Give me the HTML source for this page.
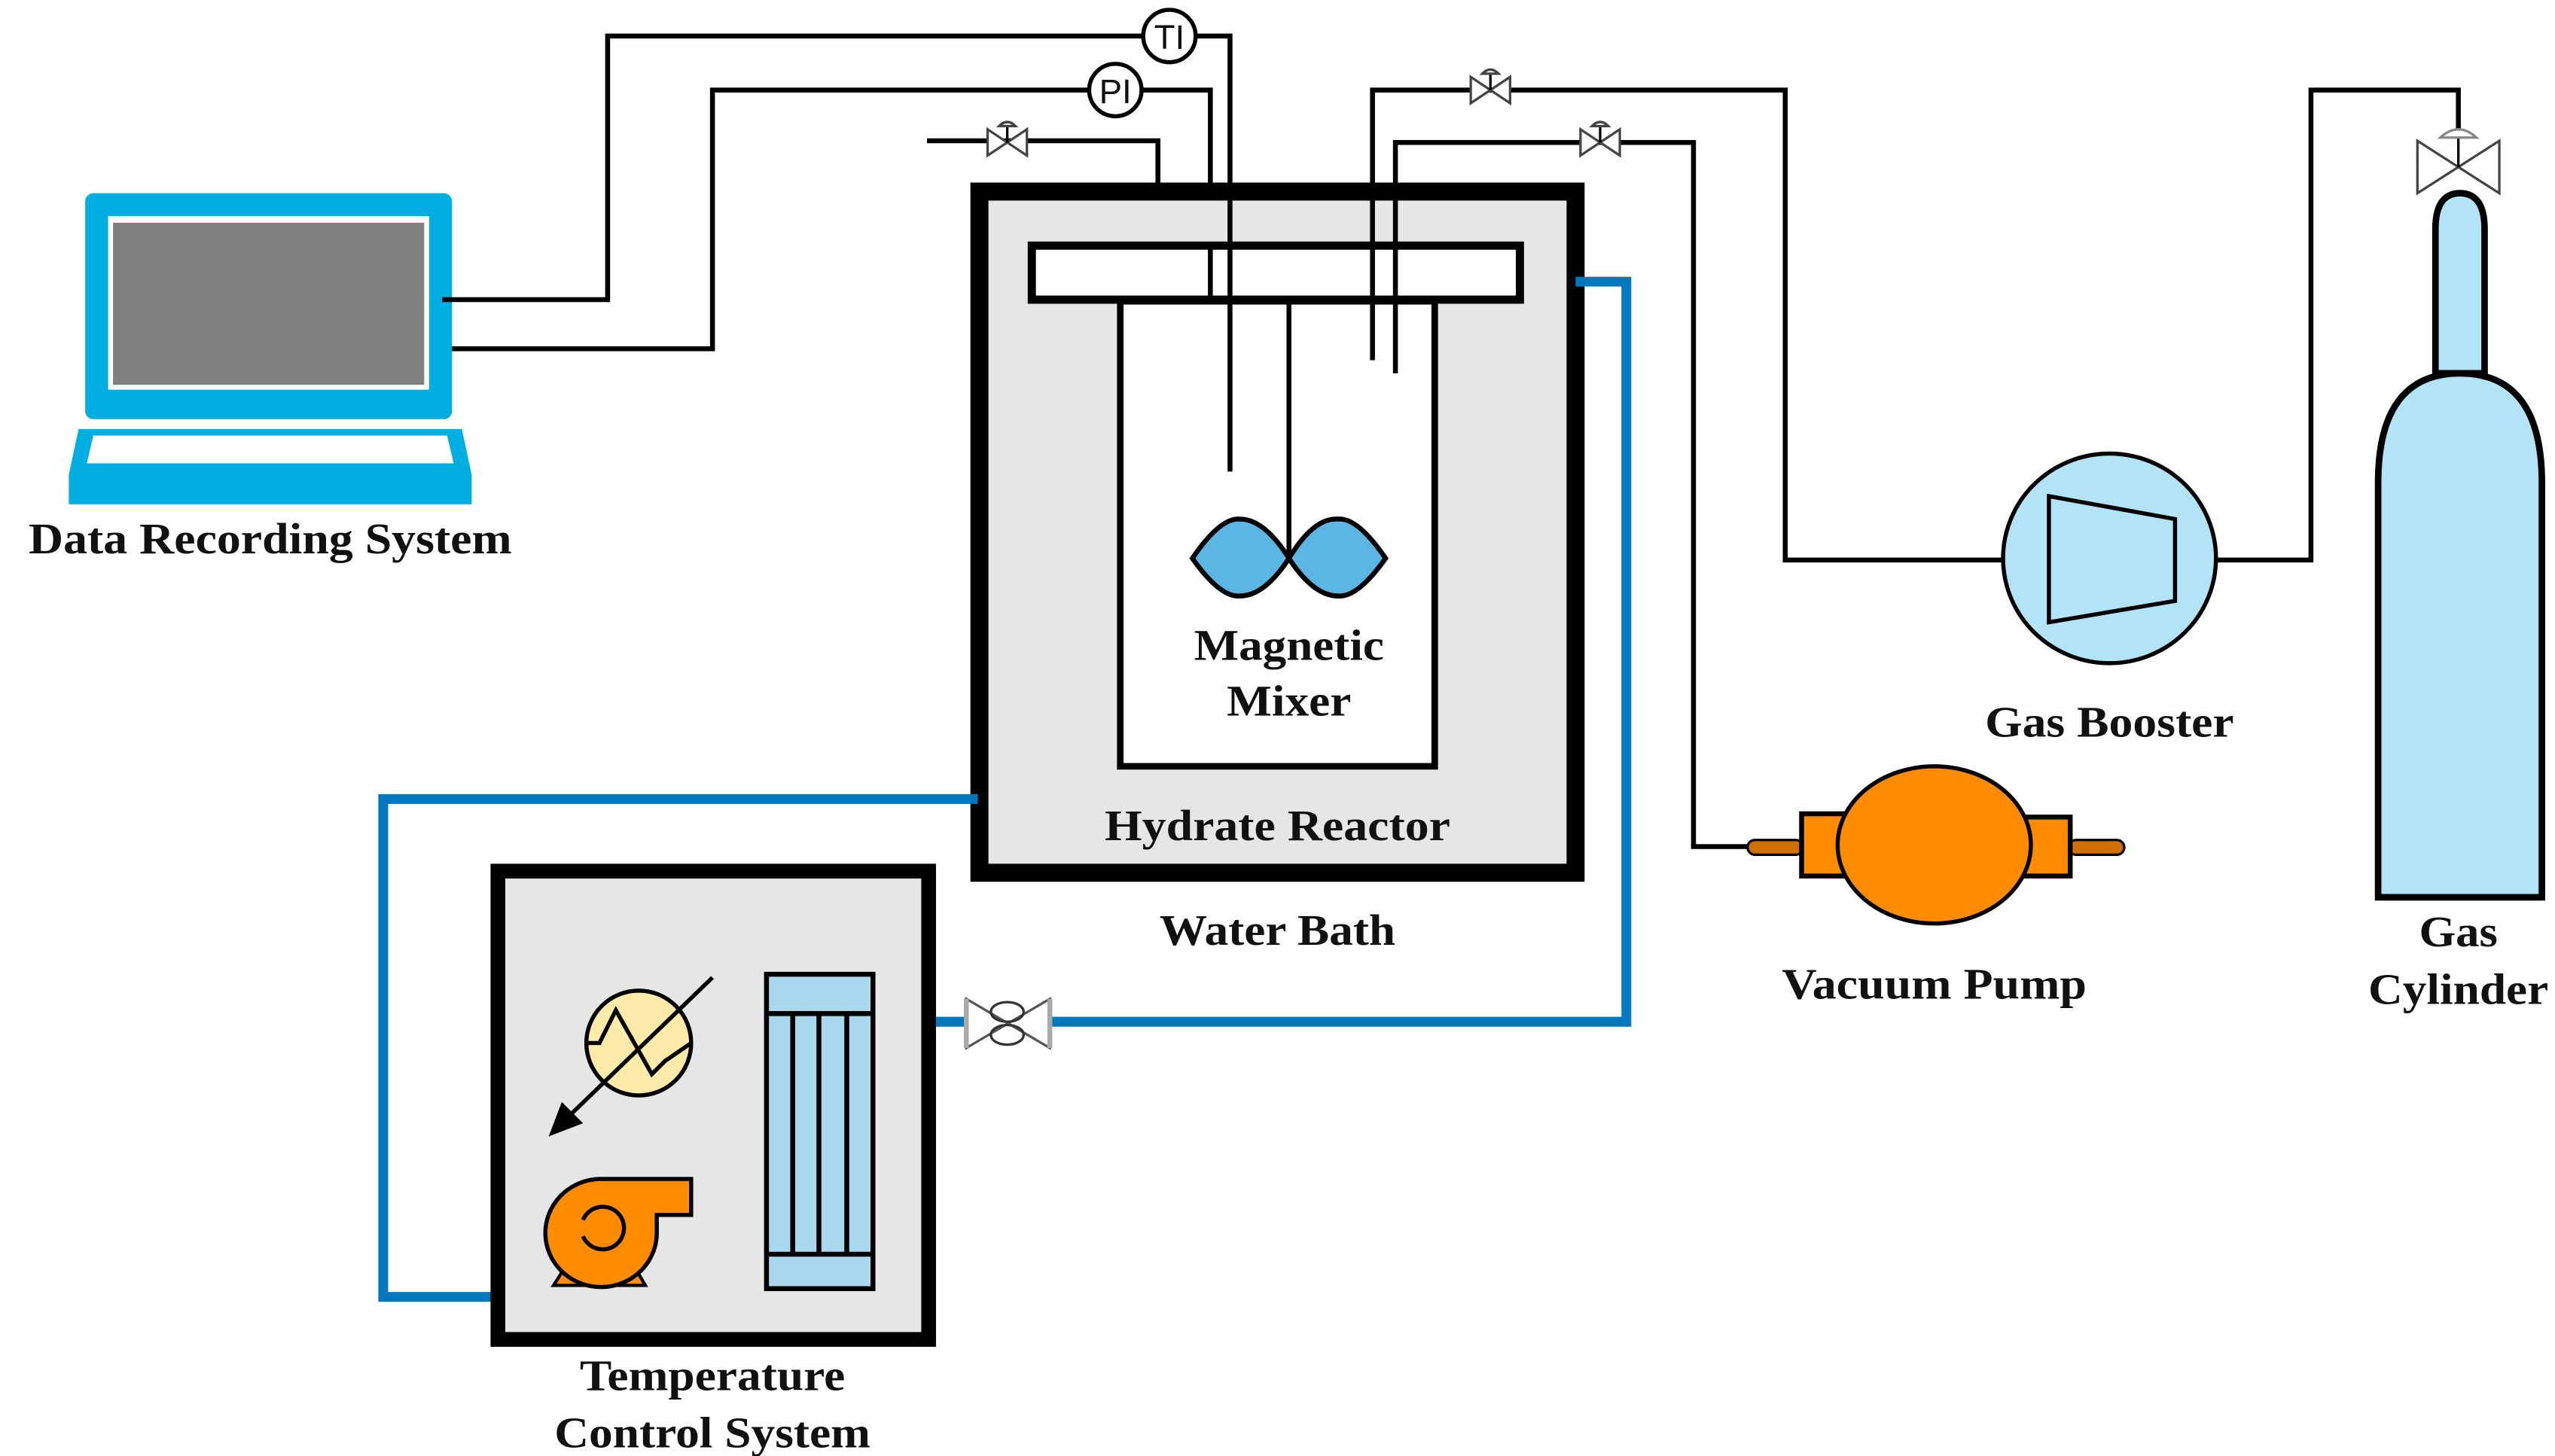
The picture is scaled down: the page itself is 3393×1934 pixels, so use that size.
<!DOCTYPE html>
<html><head><meta charset="utf-8"><style>
html,body{margin:0;padding:0;background:#fff;}
svg{display:block;}
text{font-family:"Liberation Serif",serif;font-weight:bold;fill:#111;text-anchor:middle;}
</style></head><body>
<svg width="3393" height="1934" viewBox="0 0 1560 889.2" preserveAspectRatio="none" xmlns="http://www.w3.org/2000/svg">
<defs>
<g id="sv">
 <path d="M-12,-8 L12,8 L12,-8 L-12,8 Z" fill="#fff" stroke="#444" stroke-width="1.5"/>
 <line x1="0" y1="0" x2="0" y2="-10" stroke="#000" stroke-width="1.5"/>
 <path d="M-5,-10 Q0,-15 5,-10 Z" fill="#fff" stroke="#444" stroke-width="1.5"/>
</g>
</defs>
<!-- Laptop -->
<rect x="52" y="118" width="224" height="138" rx="5" fill="#00aee2"/>
<rect x="66" y="132" width="196" height="106" fill="#fff"/>
<rect x="69" y="136" width="190" height="99" fill="#808080"/>
<path d="M48,262 L282,262 L288,290 L288,308 L42,308 L42,290 Z" fill="#00aee2"/>
<path d="M57,266 L273,266 L277,283 L53,283 Z" fill="#fff"/>
<text x="165" y="338" font-size="27" textLength="295" lengthAdjust="spacingAndGlyphs">Data Recording System</text>

<!-- black lines -->
<g fill="none" stroke="#000" stroke-width="3">
<polyline points="270,183 371,183 371,22 698,22"/>
<polyline points="730,22 751,22 751,288"/>
<polyline points="276,213 435,213 435,55 665,55"/>
<polyline points="697,55 739,55 739,150"/>
<polyline points="566,86 707,86 707,114"/>
<polyline points="838,220 838,55 1090,55 1090,342 1225,342"/>
<polyline points="852,228 852,87 1034,87 1034,517 1067,517"/>
<polyline points="1352,342 1411,342 1411,55 1501,55 1501,84"/>
</g>
<ellipse cx="714" cy="22" rx="16" ry="16" fill="#fff" stroke="#000" stroke-width="2.5"/>
<text x="714" y="30" font-size="21" style="font-family:'Liberation Sans',sans-serif;font-weight:normal">TI</text>
<ellipse cx="681" cy="55" rx="16" ry="16" fill="#fff" stroke="#000" stroke-width="2.5"/>
<text x="681" y="63" font-size="21" style="font-family:'Liberation Sans',sans-serif;font-weight:normal">PI</text>
<use href="#sv" x="615" y="87"/>
<use href="#sv" x="910" y="55"/>
<use href="#sv" x="977" y="87"/>

<!-- Water bath -->
<rect x="598" y="117" width="364" height="416" fill="#e6e6e6" stroke="#000" stroke-width="11"/>
<rect x="630" y="150" width="298" height="33" fill="#fff" stroke="#000" stroke-width="5"/>
<rect x="684" y="184" width="192" height="284" fill="#fff" stroke="#000" stroke-width="4"/>
<line x1="739" y1="150" x2="739" y2="184" stroke="#000" stroke-width="3"/>
<line x1="751" y1="117" x2="751" y2="288" stroke="#000" stroke-width="3"/>
<line x1="838" y1="117" x2="838" y2="220" stroke="#000" stroke-width="3"/>
<line x1="852" y1="117" x2="852" y2="228" stroke="#000" stroke-width="3"/>
<line x1="707" y1="112" x2="707" y2="122" stroke="#000" stroke-width="3"/>
<line x1="787" y1="184" x2="787" y2="340" stroke="#000" stroke-width="3"/>
<path d="M728,341 Q745,316 757,317 Q772,317 787,341 Q772,364 757,364 Q745,365 728,341 Z" fill="#5bb6e4" stroke="#000" stroke-width="3"/>
<path d="M787,341 Q802,316 817,317 Q829,316 846,341 Q829,365 817,364 Q802,364 787,341 Z" fill="#5bb6e4" stroke="#000" stroke-width="3"/>
<text x="787" y="403" font-size="27" textLength="116" lengthAdjust="spacingAndGlyphs">Magnetic</text>
<text x="787" y="437" font-size="27" textLength="76" lengthAdjust="spacingAndGlyphs">Mixer</text>
<text x="780" y="513" font-size="27" textLength="211" lengthAdjust="spacingAndGlyphs">Hydrate Reactor</text>
<text x="780" y="577" font-size="27" textLength="144" lengthAdjust="spacingAndGlyphs">Water Bath</text>

<!-- Blue lines -->
<g fill="none" stroke="#0079bf" stroke-width="6">
<polyline points="962,172 993,172 993,624 641,624"/>
<polyline points="589,624 567,624"/>
<polyline points="597,488 234,488 234,792 304,792"/>
</g>
<path d="M590,610 L641,640 L641,610 L590,640 Z" fill="#fff" stroke="#555" stroke-width="1.5"/>
<line x1="590" y1="610" x2="590" y2="640" stroke="#aaa" stroke-width="3"/>
<line x1="641" y1="610" x2="641" y2="640" stroke="#aaa" stroke-width="3"/>
<ellipse cx="615" cy="618" rx="10" ry="6" fill="none" stroke="#333" stroke-width="1.5"/>
<ellipse cx="615" cy="632" rx="10" ry="6" fill="none" stroke="#333" stroke-width="1.5"/>

<!-- Temperature control system -->
<rect x="304" y="532" width="263" height="286" fill="#e6e6e6" stroke="#000" stroke-width="9"/>
<circle cx="390" cy="637" r="32" fill="#fde9a8" stroke="#000" stroke-width="2.5"/>
<polyline points="358,637 366,637 376,617 398,656 406,648 422,637" fill="none" stroke="#000" stroke-width="2.5"/>
<line x1="435" y1="597" x2="346" y2="683" stroke="#000" stroke-width="2.5"/>
<path d="M335,694 L343,673 L356,686 Z" fill="#000"/>
<rect x="468" y="595" width="65" height="192" fill="#a9d8ef" stroke="#000" stroke-width="3"/>
<line x1="468" y1="619" x2="533" y2="619" stroke="#000" stroke-width="3"/>
<line x1="468" y1="766" x2="533" y2="766" stroke="#000" stroke-width="3"/>
<g stroke="#000" stroke-width="3"><line x1="484" y1="619" x2="484" y2="766"/><line x1="500" y1="619" x2="500" y2="766"/><line x1="517" y1="619" x2="517" y2="766"/></g>
<path d="M338,785 L350,766 L383,766 L394,785 Z" fill="#ff8c00" stroke="#000" stroke-width="2"/>
<path d="M366,720 L422,720 L422,742 L401,742 L401,752 A34,33 0 1 1 366,720 Z" fill="#ff8c00" stroke="#000" stroke-width="2.5"/>
<path d="M356,745 A13,13 0 1 1 356,755" fill="none" stroke="#000" stroke-width="2.5"/>
<text x="435" y="849" font-size="27" textLength="162" lengthAdjust="spacingAndGlyphs">Temperature</text>
<text x="435" y="884" font-size="27" textLength="193" lengthAdjust="spacingAndGlyphs">Control System</text>

<!-- Gas booster -->
<ellipse cx="1288" cy="341" rx="65" ry="64" fill="#b3e3f6" stroke="#000" stroke-width="2.5"/>
<path d="M1251,303 L1328,317 L1328,367 L1251,380 Z" fill="#b3e3f6" stroke="#000" stroke-width="2.5"/>
<text x="1288" y="450" font-size="27" textLength="152" lengthAdjust="spacingAndGlyphs">Gas Booster</text>

<!-- Vacuum pump -->
<rect x="1067" y="513" width="34" height="9" rx="4.5" fill="#d07000" stroke="#000" stroke-width="1.5"/>
<rect x="1263" y="513" width="34" height="9" rx="4.5" fill="#d07000" stroke="#000" stroke-width="1.5"/>
<rect x="1100" y="497" width="30" height="38" fill="#ff8c00" stroke="#000" stroke-width="3"/>
<rect x="1234" y="499" width="30" height="36" fill="#ff8c00" stroke="#000" stroke-width="3"/>
<ellipse cx="1181" cy="516" rx="59" ry="48" fill="#ff8c00" stroke="#000" stroke-width="2.5"/>
<text x="1181" y="610" font-size="27" textLength="186" lengthAdjust="spacingAndGlyphs">Vacuum Pump</text>

<!-- Gas cylinder -->
<path d="M1476,86 L1526,118 L1526,86 L1476,118 Z" fill="#fff" stroke="#444" stroke-width="1.5"/>
<line x1="1501" y1="84" x2="1501" y2="102" stroke="#000" stroke-width="1.5"/>
<path d="M1490,84 Q1501,74 1512,84 Z" fill="#fff" stroke="#888" stroke-width="1.5"/>
<path d="M1487,228 L1487,140 Q1487,118 1502,118 Q1517,118 1517,140 L1517,228 Z" fill="#b3e3f6" stroke="#000" stroke-width="4"/>
<path d="M1452,548 L1452,295 Q1452,228 1502,228 Q1552,228 1552,295 L1552,548 Z" fill="#b3e3f6" stroke="#000" stroke-width="4"/>
<text x="1501" y="578" font-size="27" textLength="48" lengthAdjust="spacingAndGlyphs">Gas</text>
<text x="1501" y="613" font-size="27" textLength="110" lengthAdjust="spacingAndGlyphs">Cylinder</text>
</svg>
</body></html>
